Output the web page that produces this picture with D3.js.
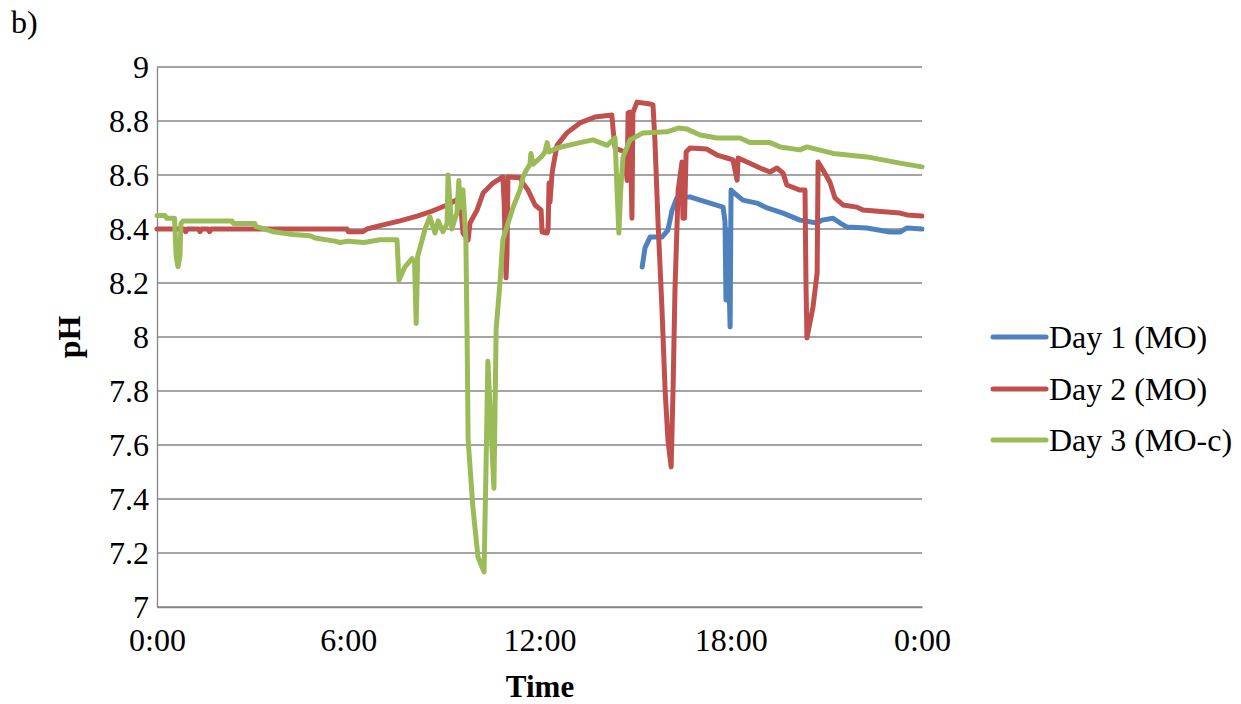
<!DOCTYPE html>
<html>
<head>
<meta charset="utf-8">
<script src="https://cdn.jsdelivr.net/npm/d3@7"></script>
<style>
  html, body { margin: 0; padding: 0; background: #ffffff; }
  svg { display: block; font-family: "Liberation Serif", "Times New Roman", serif; }
</style>
</head>
<body>
<svg id="chart" width="1241" height="704"></svg>
<script>
// Time of day in hours, pH reading
const day1MO = [
  [15.22, 8.259], [15.31, 8.33], [15.47, 8.37], [15.84, 8.37], [16.03, 8.396],
  [16.16, 8.47], [16.31, 8.515], [16.72, 8.519], [17.04, 8.507], [17.35, 8.496],
  [17.76, 8.481], [17.82, 8.426], [17.85, 8.137], [17.91, 8.396], [17.98, 8.037],
  [18.01, 8.544], [18.07, 8.537], [18.38, 8.507], [18.82, 8.496], [19.14, 8.478],
  [19.64, 8.459], [20.17, 8.433], [20.71, 8.422], [20.86, 8.433], [21.21, 8.44],
  [21.43, 8.422], [21.65, 8.407], [22.27, 8.404], [22.99, 8.389], [23.31, 8.389],
  [23.53, 8.404], [24.0, 8.40]
];

const day2MO = [
  [0.0, 8.40], [0.85, 8.40], [0.9, 8.39], [0.95, 8.40], [1.3, 8.40], [1.35, 8.39],
  [1.4, 8.40], [1.6, 8.40], [1.65, 8.39], [1.7, 8.40], [5.96, 8.40], [6.0, 8.39],
  [6.46, 8.39], [6.59, 8.40], [7.09, 8.415], [7.62, 8.43], [8.16, 8.448], [8.56, 8.463],
  [9.10, 8.489], [9.51, 8.515], [9.60, 8.385], [9.76, 8.359], [9.82, 8.422], [10.04, 8.47],
  [10.23, 8.533], [10.54, 8.57], [10.85, 8.593], [10.89, 8.50], [10.95, 8.219], [10.98, 8.30],
  [11.01, 8.593], [11.39, 8.59], [11.48, 8.57], [11.64, 8.544], [11.86, 8.489], [12.05, 8.47],
  [12.08, 8.389], [12.24, 8.385], [12.27, 8.40], [12.30, 8.57], [12.33, 8.50], [12.39, 8.60],
  [12.42, 8.626], [12.55, 8.71], [12.86, 8.756], [13.27, 8.793], [13.74, 8.815], [14.27, 8.822],
  [14.31, 8.767], [14.37, 8.70], [14.68, 8.685], [14.75, 8.58], [14.78, 8.83], [14.84, 8.833],
  [14.90, 8.44], [14.93, 8.83], [15.06, 8.87], [15.47, 8.863], [15.56, 8.86], [15.62, 8.73],
  [15.72, 8.422], [15.84, 8.111], [15.94, 7.804], [16.03, 7.619], [16.13, 7.519], [16.19, 7.804],
  [16.25, 8.174], [16.35, 8.544], [16.47, 8.648], [16.50, 8.44], [16.55, 8.44], [16.60, 8.685],
  [16.72, 8.70], [17.25, 8.696], [17.57, 8.674], [17.88, 8.663], [18.07, 8.656], [18.20, 8.581],
  [18.23, 8.663], [18.51, 8.648], [18.92, 8.626], [19.23, 8.611], [19.45, 8.626], [19.64, 8.607],
  [19.76, 8.563], [20.17, 8.544], [20.33, 8.544], [20.36, 8.20], [20.39, 7.996], [20.58, 8.111],
  [20.71, 8.237], [20.74, 8.648], [20.89, 8.619], [21.11, 8.574], [21.27, 8.515], [21.52, 8.489],
  [21.96, 8.481], [22.15, 8.47], [22.90, 8.463], [23.31, 8.459], [23.53, 8.452], [24.0, 8.448]
];

const day3MOc = [
  [0.0, 8.45], [0.25, 8.45], [0.30, 8.44], [0.55, 8.44], [0.60, 8.30], [0.66, 8.26],
  [0.72, 8.30], [0.75, 8.42], [0.82, 8.43], [2.35, 8.43], [2.40, 8.42], [3.07, 8.42],
  [3.10, 8.41], [3.64, 8.39], [4.27, 8.38], [4.80, 8.375], [4.96, 8.367], [5.58, 8.355],
  [5.74, 8.35], [6.0, 8.355], [6.5, 8.35], [7.0, 8.36], [7.53, 8.36], [7.59, 8.21],
  [7.78, 8.26], [8.00, 8.29], [8.08, 8.28], [8.13, 8.05], [8.18, 8.30], [8.25, 8.33],
  [8.41, 8.40], [8.56, 8.445], [8.72, 8.385], [8.82, 8.43], [8.97, 8.39], [9.10, 8.42],
  [9.13, 8.60], [9.25, 8.40], [9.41, 8.46], [9.47, 8.58], [9.51, 8.48], [9.60, 8.545],
  [9.69, 8.36], [9.73, 7.99], [9.76, 7.62], [9.91, 7.37], [10.07, 7.185], [10.26, 7.13],
  [10.32, 7.50], [10.38, 7.91], [10.57, 7.44], [10.64, 8.03], [10.76, 8.20], [10.85, 8.36],
  [11.01, 8.42], [11.17, 8.48], [11.39, 8.545], [11.48, 8.59], [11.55, 8.61], [11.70, 8.64],
  [11.73, 8.68], [11.80, 8.64], [12.08, 8.67], [12.17, 8.685], [12.24, 8.72], [12.30, 8.685],
  [12.55, 8.70], [13.27, 8.72], [13.68, 8.73], [13.90, 8.72], [14.12, 8.71], [14.37, 8.737],
  [14.43, 8.55], [14.49, 8.385], [14.55, 8.55], [14.62, 8.667], [14.84, 8.73], [15.25, 8.756],
  [16.0, 8.76], [16.35, 8.774], [16.63, 8.77], [17.04, 8.748], [17.57, 8.737], [18.29, 8.737],
  [18.60, 8.72], [19.23, 8.72], [19.55, 8.704], [20.17, 8.693], [20.39, 8.704], [21.21, 8.68],
  [22.27, 8.667], [23.31, 8.644], [24.0, 8.63]
];

const seriesNames = ["Day 1 (MO)", "Day 2 (MO)", "Day 3 (MO-c)"];
const seriesColors = ["#4F81BD", "#C0504D", "#9BBB59"];
const xTickHours = [0, 6, 12, 18, 24];
const xTickLabels = ["0:00", "6:00", "12:00", "18:00", "0:00"];
const yTickValues = [7, 7.2, 7.4, 7.6, 7.8, 8, 8.2, 8.4, 8.6, 8.8, 9];
const yTickLabels = ["7", "7.2", "7.4", "7.6", "7.8", "8", "8.2", "8.4", "8.6", "8.8", "9"];

const svg = d3.select("#chart");
const plot = { left: 157, right: 922, top: 67, bottom: 607 };
const serif = "Liberation Serif, Times New Roman, serif";
const fontSize = 32;

const x = d3.scaleLinear().domain([0, 24]).range([plot.left, plot.right]);
const y = d3.scaleLinear().domain([7, 9]).range([plot.bottom, plot.top]);

// panel label
svg.append("text")
  .attr("x", 11).attr("y", 33)
  .attr("font-size", fontSize)
  .text("b)");

// horizontal gridlines
svg.append("g")
  .selectAll("line")
  .data(yTickValues)
  .join("line")
  .attr("x1", plot.left).attr("x2", plot.right)
  .attr("y1", d => y(d)).attr("y2", d => y(d))
  .attr("stroke", "#868686")
  .attr("stroke-width", 1.3);

// y axis
const yAxis = svg.append("g")
  .attr("transform", `translate(${plot.left},0)`)
  .call(d3.axisLeft(y)
    .tickValues(yTickValues)
    .tickFormat((d, i) => yTickLabels[i])
    .tickSize(0)
    .tickPadding(8));
yAxis.select(".domain").attr("stroke", "#868686").attr("stroke-width", 1.3);
yAxis.selectAll("text")
  .attr("font-family", serif)
  .attr("font-size", fontSize)
  .attr("fill", "#000");

// x axis
const xAxis = svg.append("g")
  .attr("transform", `translate(0,${plot.bottom})`)
  .call(d3.axisBottom(x)
    .tickValues(xTickHours)
    .tickFormat((d, i) => xTickLabels[i])
    .tickSize(0)
    .tickPadding(21));
xAxis.select(".domain").attr("stroke", "#868686").attr("stroke-width", 1.3);
xAxis.selectAll("text")
  .attr("font-family", serif)
  .attr("font-size", fontSize)
  .attr("fill", "#000");

// axis titles
svg.append("text")
  .attr("x", 540).attr("y", 697)
  .attr("text-anchor", "middle")
  .attr("font-size", 31).attr("font-weight", "bold")
  .text("Time");

svg.append("text")
  .attr("transform", `translate(80,${(plot.top + plot.bottom) / 2}) rotate(-90)`)
  .attr("text-anchor", "middle")
  .attr("font-size", fontSize).attr("font-weight", "bold")
  .text("pH");

// series lines
const line = d3.line()
  .x(d => x(d[0]))
  .y(d => y(d[1]));

const allSeries = [day1MO, day2MO, day3MOc];
svg.append("g")
  .selectAll("path")
  .data(allSeries)
  .join("path")
  .attr("d", line)
  .attr("fill", "none")
  .attr("stroke", (d, i) => seriesColors[i])
  .attr("stroke-width", 5)
  .attr("stroke-linejoin", "round")
  .attr("stroke-linecap", "round");

// legend
const legend = svg.append("g");
const legendY = [337, 389, 440];
legend.selectAll("line")
  .data(seriesNames)
  .join("line")
  .attr("x1", 993).attr("x2", 1046)
  .attr("y1", (d, i) => legendY[i]).attr("y2", (d, i) => legendY[i])
  .attr("stroke", (d, i) => seriesColors[i])
  .attr("stroke-width", 5)
  .attr("stroke-linecap", "round");
legend.selectAll("text")
  .data(seriesNames)
  .join("text")
  .attr("x", 1049)
  .attr("y", (d, i) => legendY[i])
  .attr("dy", "0.35em")
  .attr("font-size", fontSize)
  .text(d => d);
</script>
</body>
</html>
